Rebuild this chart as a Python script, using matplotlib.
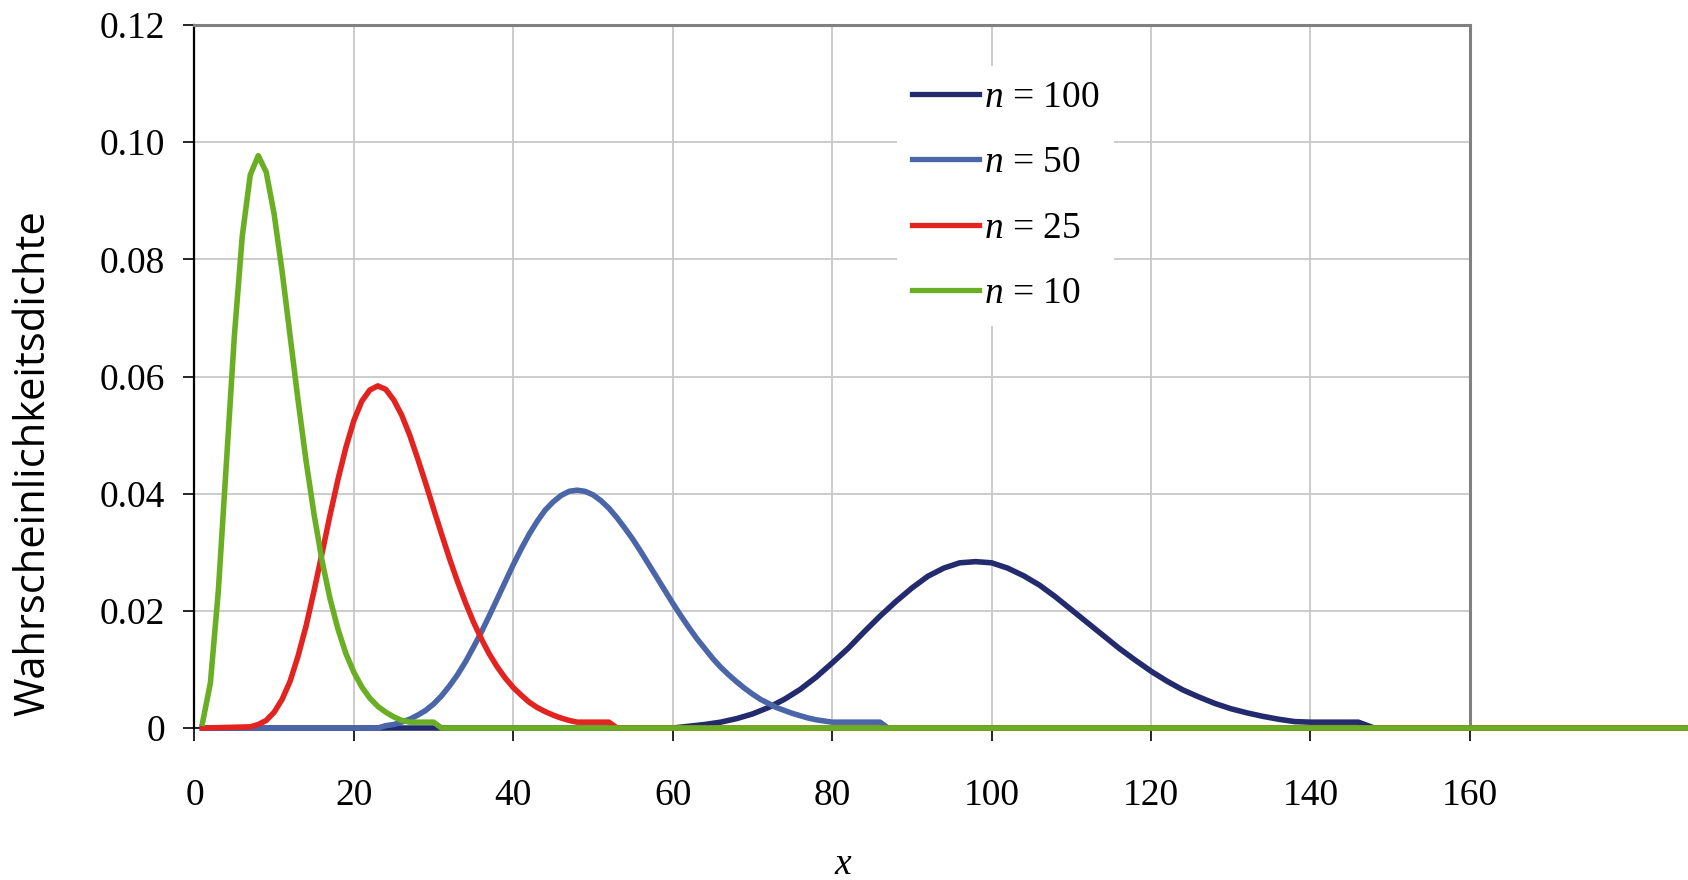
import matplotlib
matplotlib.use("Agg")
import matplotlib.pyplot as plt

# chi-square densities, values
x_n10 = list(range(1, 32)) + [190]
y_n10 = [0.0008, 0.0077, 0.0235, 0.0451, 0.0668, 0.0840, 0.0944, 0.0977, 0.0949, 0.0877,
         0.0779, 0.0669, 0.0559, 0.0456, 0.0365, 0.0286, 0.0221, 0.0169, 0.0127, 0.0095,
         0.0070, 0.0051, 0.0037, 0.0027, 0.0019, 0.0013, 0.0010, 0.0010, 0.0010, 0.0010,
         0.0, 0.0]

x_n25 = [1] + list(range(7, 54)) + [190]
y_n25 = [0.0, 0.0002, 0.0006, 0.0013, 0.0027, 0.0049, 0.0080, 0.0123, 0.0174, 0.0234,
         0.0298, 0.0363, 0.0424, 0.0479, 0.0525, 0.0558, 0.0577, 0.0584, 0.0578, 0.0560,
         0.0534, 0.0500, 0.0460, 0.0418, 0.0374, 0.0331, 0.0289, 0.0250, 0.0214, 0.0181,
         0.0152, 0.0126, 0.0104, 0.0085, 0.0069, 0.0056, 0.0044, 0.0035, 0.0028, 0.0022,
         0.0017, 0.0013, 0.0010, 0.0010, 0.0010, 0.0010, 0.0010, 0.0, 0.0]

x_n50 = [1] + list(range(23, 88)) + [190]
y_n50 = [0.0, 0.0, 0.0004, 0.0006, 0.0010, 0.0015, 0.0022, 0.0030, 0.0041, 0.0055, 0.0072,
         0.0091, 0.0113, 0.0138, 0.0164, 0.0192, 0.0221, 0.0250, 0.0279, 0.0306, 0.0331,
         0.0353, 0.0372, 0.0386, 0.0397, 0.0404, 0.0406, 0.0404, 0.0398, 0.0388, 0.0375,
         0.0359, 0.0341, 0.0322, 0.0301, 0.0279, 0.0257, 0.0235, 0.0213, 0.0192, 0.0172,
         0.0153, 0.0136, 0.0119, 0.0104, 0.0091, 0.0079, 0.0068, 0.0058, 0.0049, 0.0042,
         0.0035, 0.0030, 0.0025, 0.0021, 0.0017, 0.0014, 0.0012, 0.0010, 0.0010, 0.0010,
         0.0010, 0.0010, 0.0010, 0.0010, 0.0, 0.0]

x_n100 = [1] + list(range(60, 150, 2)) + [190]
y_n100 = [0.0, 0.0, 0.0003, 0.0006, 0.0010, 0.0016, 0.0024, 0.0035, 0.0049, 0.0066, 0.0087,
          0.0111, 0.0136, 0.0164, 0.0191, 0.0216, 0.0239, 0.0259, 0.0273, 0.0282, 0.0284,
          0.0282, 0.0273, 0.0260, 0.0244, 0.0224, 0.0202, 0.0180, 0.0158, 0.0136, 0.0116,
          0.0097, 0.0080, 0.0065, 0.0053, 0.0042, 0.0033, 0.0026, 0.0020, 0.0015, 0.0011,
          0.0010, 0.0010, 0.0010, 0.0010, 0.0, 0.0]

series = [
    (x_n100, y_n100, "#232b6e", "$n$ = 100"),
    (x_n50, y_n50, "#4a66a9", "$n$ = 50"),
    (x_n25, y_n25, "#e3231f", "$n$ = 25"),
    (x_n10, y_n10, "#6aae23", "$n$ = 10"),
]

xticks = [0, 20, 40, 60, 80, 100, 120, 140, 160]
yticks = [0, 0.02, 0.04, 0.06, 0.08, 0.10, 0.12]
ytick_labels = ["0", "0.02", "0.04", "0.06", "0.08", "0.10", "0.12"]

plt.rcParams['font.family'] = ['Liberation Serif', 'DejaVu Serif']
plt.rcParams['mathtext.fontset'] = 'custom'
plt.rcParams['mathtext.rm'] = 'Liberation Serif'
plt.rcParams['mathtext.it'] = 'Liberation Serif:italic'

fig = plt.figure(figsize=(16.88, 8.80), dpi=100)
ax = fig.add_axes([0.1152, 0.1727, 0.7556, 0.7989])

for xs, ys, col, lab in series:
    ax.plot(xs, ys, color=col, lw=4.0, label=lab, clip_on=False, zorder=3,
            solid_joinstyle='round')

ax.set_xlim(0, 160)
ax.set_ylim(0, 0.12)
ax.set_xticks(xticks)
ax.set_yticks(yticks)
ax.set_yticklabels(ytick_labels)
ax.grid(True, color="#c8c8c8", lw=1.3, zorder=0)
ax.set_axisbelow(True)

ax.tick_params(axis='y', direction='out', length=8, width=1.2, pad=13, labelsize=27)
ax.tick_params(axis='x', direction='out', length=9, width=1.2, pad=27, labelsize=27)

ax.spines['left'].set_color('black')
ax.spines['left'].set_linewidth(1.6)
ax.spines['bottom'].set_color('black')
ax.spines['bottom'].set_linewidth(1.2)
for s in ('top', 'right'):
    ax.spines[s].set_color('#808080')
    ax.spines[s].set_linewidth(2.2)

ax.set_ylabel("Wahrscheinlichkeitsdichte", family="Open Sans", fontsize=30,
              ha='center', va='center')
ax.yaxis.set_label_coords(-0.126, 0.377)
ax.set_xlabel("$x$", fontsize=27, va='center')
ax.xaxis.set_label_coords(0.509, -0.194)

leg = ax.legend(loc='upper left', bbox_to_anchor=(878 / 1688, 1 - 47 / 880),
                bbox_transform=fig.transFigure, fontsize=27, frameon=True,
                fancybox=False, framealpha=1, edgecolor='none', facecolor='white',
                handlelength=1.8, handletextpad=0.12, labelspacing=0.82, borderpad=0.4)
for line in leg.get_lines():
    line.set_linewidth(3.8)
leg.set_zorder(2)

fig.savefig("out.png", dpi=100)
